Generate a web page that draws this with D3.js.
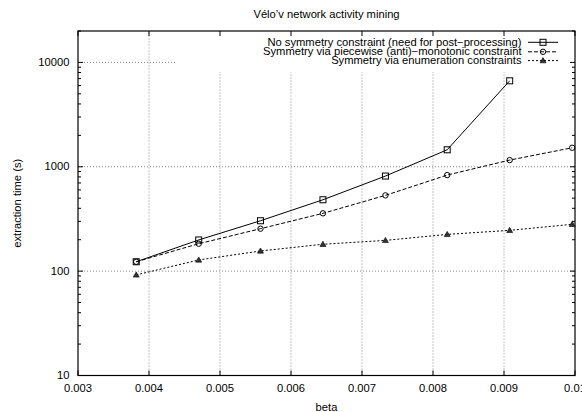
<!DOCTYPE html>
<html>
<head>
<meta charset="utf-8">
<script src="https://cdn.jsdelivr.net/npm/d3@7"></script>
<style>
  body { margin: 0; background: #fff; }
  text { font-family: "Liberation Sans", Arial, sans-serif; font-size: 10px; fill: #000; }
</style>
</head>
<body>
<svg id="chart" width="582" height="412"></svg>
<script>
// data
var beta = [0.00382, 0.0047, 0.00557, 0.00645, 0.00733, 0.0082, 0.00908, 0.00996];
var noSym = [123, 199, 304, 483, 815, 1455, 6665];
var piecewise = [123, 183, 255, 358, 532, 833, 1159, 1521];
var enumer = [92, 128, 156, 181, 197, 225, 246, 281];
var xTicks = [0.003, 0.004, 0.005, 0.006, 0.007, 0.008, 0.009, 0.01];
var yTicks = [10, 100, 1000, 10000];
var labels = [
  "No symmetry constraint (need for post\u2212processing)",
  "Symmetry via piecewise (anti)\u2212monotonic constraint",
  "Symmetry via enumeration constraints"
];

var m = {left: 78, right: 575, top: 31, bottom: 375.5};
var stretch = 1.12; // the font in the picture is wider than Liberation Sans
var svg = d3.select("#chart");

var x = d3.scaleLinear().domain([0.003, 0.01]).range([m.left, m.right]);
var y = d3.scaleLog().domain([10, 20000]).range([m.bottom, m.top]);

function label(sel, px, py, str, anchor, rot){
  return sel.append("text")
    .attr("transform", "translate(" + px + "," + py + ")" + (rot ? " rotate(" + rot + ")" : "") + " scale(" + stretch + ",1)")
    .attr("dy", "0.36em")
    .attr("text-anchor", anchor || "middle")
    .text(str);
}

// key box, grid lines stop at it
var key = {x0: 177, y1: 72};

var g = svg.append("g").attr("class", "grid");
xTicks.slice(1, -1).forEach(function(t){
  var px = x(t);
  g.append("line")
    .attr("x1", px).attr("x2", px)
    .attr("y1", m.bottom).attr("y2", px > key.x0 ? key.y1 : m.top)
    .attr("stroke", "#888").attr("stroke-dasharray", "1,2");
});
yTicks.slice(1).forEach(function(t){
  var py = y(t);
  g.append("line")
    .attr("x1", m.left).attr("x2", py < key.y1 ? key.x0 : m.right)
    .attr("y1", py).attr("y2", py)
    .attr("stroke", "#888").attr("stroke-dasharray", "1,2");
});

// frame
svg.append("rect")
  .attr("x", m.left).attr("y", m.top)
  .attr("width", m.right - m.left).attr("height", m.bottom - m.top)
  .attr("fill", "none").attr("stroke", "#000").attr("stroke-width", 1.2);

// ticks, mirrored, pointing in
var ticks = svg.append("g").attr("stroke", "#000");
xTicks.forEach(function(t){
  ticks.append("line").attr("x1", x(t)).attr("x2", x(t)).attr("y1", m.bottom).attr("y2", m.bottom - 5);
  ticks.append("line").attr("x1", x(t)).attr("x2", x(t)).attr("y1", m.top).attr("y2", m.top + 5);
});
var minor = [];
[10, 100, 1000, 10000].forEach(function(d){
  for (var k = 2; k <= 9; k++) if (d * k <= 20000) minor.push(d * k);
});
yTicks.forEach(function(t){
  ticks.append("line").attr("x1", m.left).attr("x2", m.left + 5).attr("y1", y(t)).attr("y2", y(t));
  ticks.append("line").attr("x1", m.right).attr("x2", m.right - 5).attr("y1", y(t)).attr("y2", y(t));
});
minor.forEach(function(t){
  ticks.append("line").attr("x1", m.left).attr("x2", m.left + 3).attr("y1", y(t)).attr("y2", y(t));
  ticks.append("line").attr("x1", m.right).attr("x2", m.right - 3).attr("y1", y(t)).attr("y2", y(t));
});

// tick labels
var tl = svg.append("g");
xTicks.forEach(function(t){ label(tl, x(t), 388.7, String(t)); });
yTicks.forEach(function(t){ label(tl, 69.5, y(t), String(t), "end"); });

// titles
label(svg, (m.left + m.right) / 2, 14.7, "V\u00e9lo\u2019v network activity mining");
label(svg, (m.left + m.right) / 2, 407, "beta");
label(svg, 17, (m.top + m.bottom) / 2, "extraction time (s)", "middle", -90);

// series
var series = [
  {vals: noSym, dash: null, mark: "square"},
  {vals: piecewise, dash: "4,2", mark: "circle"},
  {vals: enumer, dash: "2,2", mark: "triangle"}
];

var line = d3.line()
  .x(function(d){ return x(d[0]); })
  .y(function(d){ return y(d[1]); });

function drawMark(sel, type, cx, cy){
  if (type == "square") {
    sel.append("rect").attr("x", cx - 3).attr("y", cy - 3).attr("width", 6).attr("height", 6)
      .attr("fill", "none").attr("stroke", "#000");
  } else if (type == "circle") {
    sel.append("circle").attr("cx", cx).attr("cy", cy).attr("r", 2.7)
      .attr("fill", "none").attr("stroke", "#000");
  } else {
    sel.append("path").attr("d", "M" + cx + "," + (cy - 3) + "L" + (cx + 3) + "," + (cy + 2.2) + "L" + (cx - 3) + "," + (cy + 2.2) + "Z")
      .attr("fill", "#333").attr("stroke", "#000").attr("stroke-width", 0.6);
  }
}

var plot = svg.append("g");
series.forEach(function(s){
  var pts = s.vals.map(function(v, i){ return [beta[i], v]; });
  plot.append("path").attr("d", line(pts))
    .attr("fill", "none").attr("stroke", "#000").attr("stroke-width", 1)
    .attr("stroke-dasharray", s.dash);
  pts.forEach(function(p){ drawMark(plot, s.mark, x(p[0]), y(p[1])); });
});

// legend
var legY = [42.3, 51.8, 60.6];
var leg = svg.append("g").attr("class", "legend");
series.forEach(function(s, i){
  label(leg, 521.5, legY[i], labels[i], "end");
  leg.append("line").attr("x1", 528).attr("x2", 558).attr("y1", legY[i]).attr("y2", legY[i])
    .attr("stroke", "#000").attr("stroke-dasharray", s.dash);
  drawMark(leg, s.mark, 543, legY[i]);
});
</script>
</body>
</html>
